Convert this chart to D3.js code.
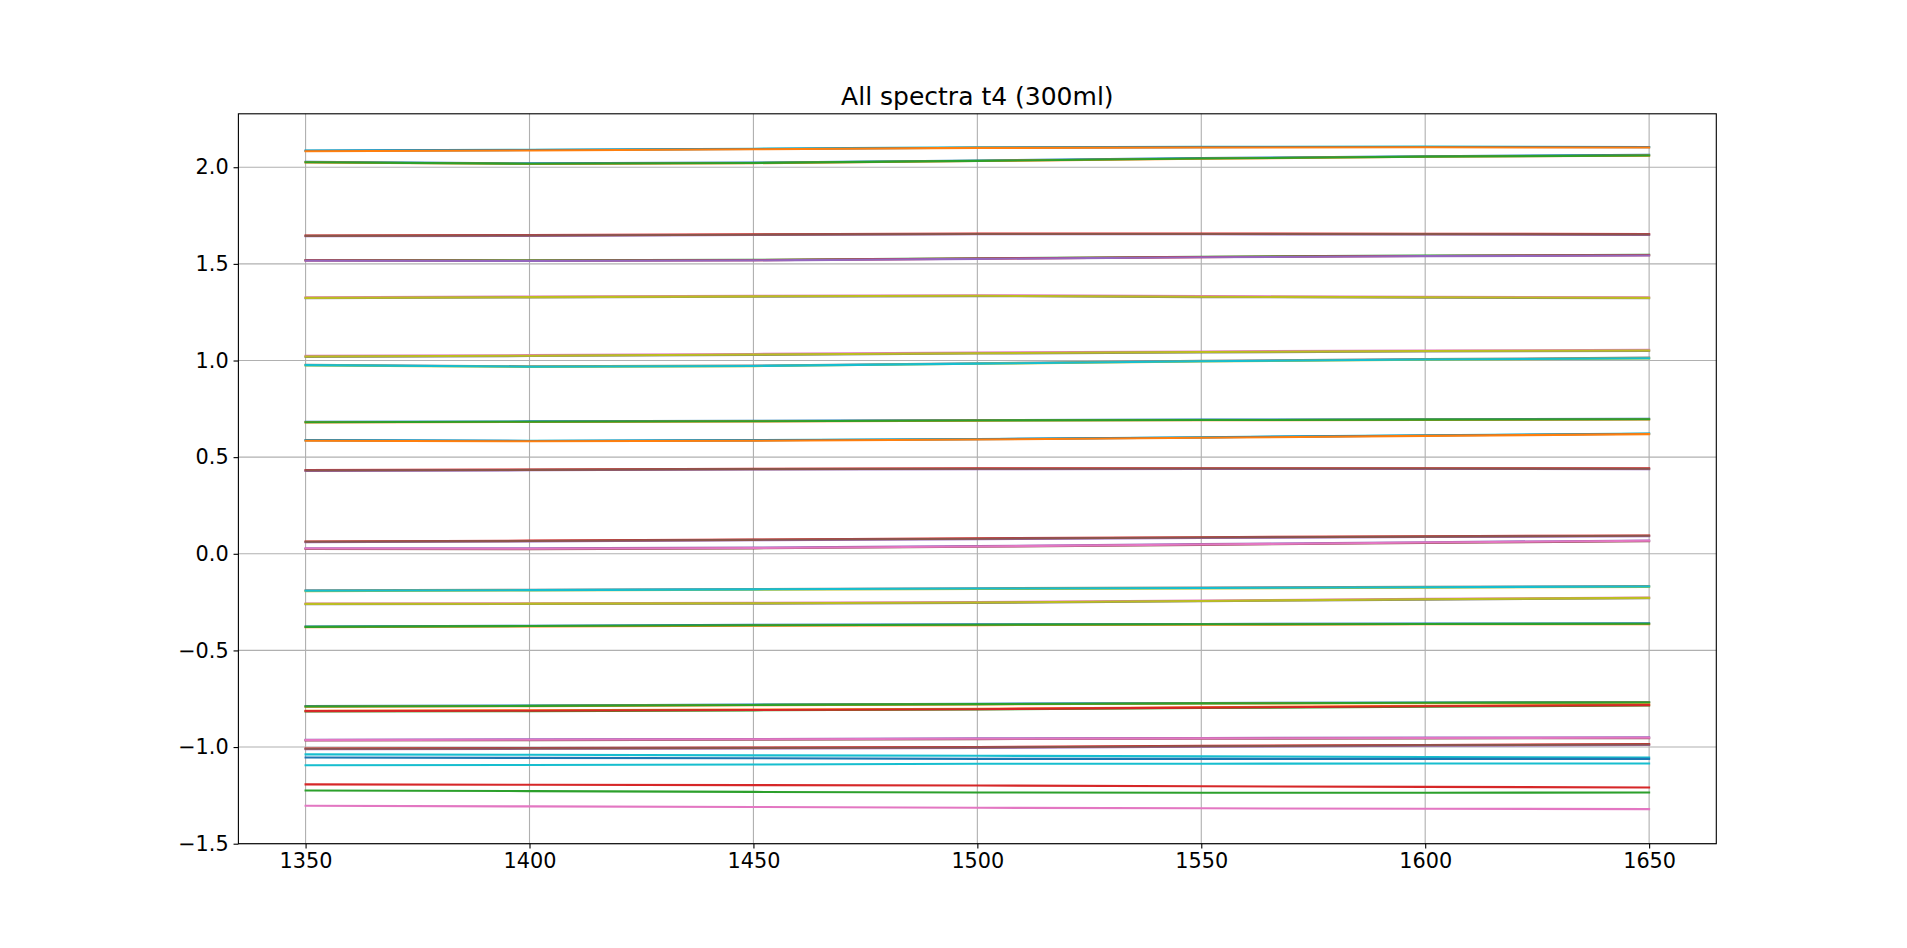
<!DOCTYPE html>
<head>
  <meta charset="utf-8">
  <script src="https://d3js.org/d3.v7.min.js"></script>
  <style>
    body { margin:0; background:#fff; }
    text { font-family: "DejaVu Sans", sans-serif; fill:#000; }
    .grid line { stroke:#b0b0b0; stroke-width:1.11; }
    .axis path, .axis line { stroke:#000; stroke-width:1.11; }
    .axis text { font-size:20.8px; }
    .spectrum { fill:none; stroke-width:2.08; stroke-linejoin:round; stroke-linecap:square; }
  </style>
</head>

<body>
  <script>
  // ---------- data ----------
    var wavenumber = [1350, 1400, 1450, 1500, 1550, 1600, 1650];
    var xTicks = [1350, 1400, 1450, 1500, 1550, 1600, 1650];
    var yTicks = [-1.5, -1.0, -0.5, 0.0, 0.5, 1.0, 1.5, 2.0];

    // each sample: three repeat spectra, in plotting order
    var sample01 = [[2.087, 2.090, 2.096, 2.103, 2.106, 2.107, 2.105],
                    [2.085, 2.089, 2.094, 2.101, 2.104, 2.105, 2.104],
                    [2.083, 2.087, 2.093, 2.100, 2.102, 2.103, 2.102]];
    var sample02 = [[2.028, 2.020, 2.024, 2.035, 2.047, 2.057, 2.064],
                    [2.025, 2.017, 2.021, 2.032, 2.044, 2.054, 2.060],
                    [2.026, 2.018, 2.022, 2.033, 2.045, 2.055, 2.061]];
    var sample03 = [[1.647, 1.649, 1.653, 1.657, 1.657, 1.656, 1.654],
                    [1.643, 1.645, 1.649, 1.653, 1.653, 1.652, 1.650],
                    [1.645, 1.647, 1.651, 1.655, 1.655, 1.654, 1.652]];
    var sample04 = [[1.520, 1.518, 1.521, 1.529, 1.537, 1.543, 1.547],
                    [1.518, 1.516, 1.519, 1.527, 1.535, 1.541, 1.545],
                    [1.517, 1.515, 1.518, 1.526, 1.534, 1.540, 1.543]];
    var sample05 = [[1.327, 1.331, 1.335, 1.338, 1.333, 1.330, 1.327],
                    [1.322, 1.326, 1.330, 1.333, 1.328, 1.325, 1.322],
                    [1.324, 1.328, 1.332, 1.335, 1.330, 1.327, 1.324]];
    var sample06 = [[1.024, 1.028, 1.034, 1.041, 1.047, 1.052, 1.055],
                    [1.019, 1.023, 1.029, 1.036, 1.042, 1.047, 1.050],
                    [1.021, 1.025, 1.031, 1.038, 1.044, 1.049, 1.052]];
    var sample07 = [[0.978, 0.970, 0.974, 0.986, 0.998, 1.007, 1.015],
                    [0.975, 0.967, 0.971, 0.983, 0.995, 1.004, 1.011],
                    [0.976, 0.968, 0.972, 0.984, 0.996, 1.005, 1.012]];
    var sample08 = [[0.683, 0.685, 0.688, 0.692, 0.694, 0.696, 0.698],
                    [0.680, 0.682, 0.685, 0.689, 0.691, 0.693, 0.695],
                    [0.681, 0.683, 0.686, 0.690, 0.692, 0.694, 0.696]];
    var sample09 = [[0.588, 0.585, 0.588, 0.594, 0.603, 0.613, 0.622],
                    [0.587, 0.584, 0.587, 0.593, 0.602, 0.612, 0.621],
                    [0.585, 0.582, 0.585, 0.591, 0.600, 0.610, 0.619]];
    var sample10 = [[0.433, 0.436, 0.440, 0.442, 0.443, 0.443, 0.442],
                    [0.429, 0.432, 0.436, 0.438, 0.439, 0.439, 0.438],
                    [0.431, 0.434, 0.438, 0.440, 0.441, 0.441, 0.440]];
    var sample11 = [[0.064, 0.068, 0.074, 0.080, 0.086, 0.091, 0.095],
                    [0.060, 0.064, 0.070, 0.076, 0.082, 0.087, 0.091],
                    [0.062, 0.066, 0.072, 0.078, 0.084, 0.089, 0.093]];
    var sample12 = [[0.029, 0.028, 0.032, 0.040, 0.050, 0.060, 0.069],
                    [0.025, 0.024, 0.028, 0.036, 0.046, 0.056, 0.065],
                    [0.027, 0.026, 0.030, 0.038, 0.048, 0.058, 0.067]];
    var sample13 = [[-0.189, -0.186, -0.182, -0.178, -0.175, -0.171, -0.167],
                    [-0.193, -0.190, -0.186, -0.182, -0.179, -0.175, -0.171],
                    [-0.191, -0.188, -0.184, -0.180, -0.177, -0.173, -0.169]];
    var sample14 = [[-0.257, -0.256, -0.254, -0.250, -0.242, -0.233, -0.226],
                    [-0.261, -0.260, -0.258, -0.254, -0.246, -0.237, -0.230],
                    [-0.259, -0.258, -0.256, -0.252, -0.244, -0.235, -0.228]];
    var sample15 = [[-0.376, -0.372, -0.368, -0.365, -0.363, -0.361, -0.360],
                    [-0.380, -0.376, -0.372, -0.369, -0.367, -0.365, -0.364],
                    [-0.378, -0.374, -0.370, -0.367, -0.365, -0.363, -0.362]];
    var sample16 = [[-0.788, -0.785, -0.780, -0.776, -0.772, -0.769, -0.767],
                    [-0.791, -0.788, -0.783, -0.779, -0.775, -0.772, -0.770],
                    [-0.790, -0.787, -0.782, -0.778, -0.774, -0.771, -0.769]];
    var sample17 = [[-0.812, -0.810, -0.806, -0.802, -0.794, -0.787, -0.781],
                    [-0.816, -0.814, -0.810, -0.806, -0.798, -0.791, -0.785],
                    [-0.814, -0.812, -0.808, -0.804, -0.796, -0.789, -0.783]];
    var sample18 = [[-0.962, -0.960, -0.958, -0.955, -0.953, -0.951, -0.950],
                    [-0.966, -0.964, -0.962, -0.959, -0.957, -0.955, -0.954],
                    [-0.964, -0.962, -0.960, -0.957, -0.955, -0.953, -0.952]];
    var sample19 = [[-1.007, -1.005, -1.003, -1.000, -0.994, -0.989, -0.985],
                    [-1.011, -1.009, -1.007, -1.004, -0.998, -0.993, -0.989],
                    [-1.009, -1.007, -1.005, -1.002, -0.996, -0.991, -0.987]];
    // single spectra near the bottom
    var sample20 = [[-1.038, -1.040, -1.043, -1.045, -1.048, -1.051, -1.054]];
    var sample21 = [[-1.054, -1.056, -1.058, -1.061, -1.061, -1.061, -1.061]];
    var sample22 = [[-1.094, -1.093, -1.090, -1.086, -1.086, -1.085, -1.085]];
    var sample23 = [[-1.193, -1.195, -1.197, -1.199, -1.203, -1.206, -1.209]];
    var sample24 = [[-1.225, -1.228, -1.232, -1.235, -1.236, -1.236, -1.235]];
    var sample25 = [[-1.304, -1.307, -1.310, -1.314, -1.317, -1.319, -1.321]];

    var samples = [sample01, sample02, sample03, sample04, sample05, sample06, sample07,
                   sample08, sample09, sample10, sample11, sample12, sample13, sample14,
                   sample15, sample16, sample17, sample18, sample19, sample20, sample21,
                   sample22, sample23, sample24, sample25];

  // ---------- colour (index into the tab10 cycle) for each repeat ----------
    var sampleColours = [[9,0,1],[0,1,2],[3,4,5],[2,3,4],[6,7,8],[6,7,8],[7,8,9],
                         [0,1,2],[9,0,1],[3,4,5],[3,4,5],[4,5,6],[7,8,9],[6,7,8],
                         [0,1,2],[0,1,2],[1,2,3],[4,5,6],[3,4,5],[9],[0],[9],[3],[2],[6]];
    var tab10 = d3.schemeCategory10;

  // ---------- layout ----------
    var W = 1907, H = 948;
    var margin = {top: 113.8, right: 190.7, bottom: 104.3, left: 238.4};
    var innerW = W - margin.left - margin.right,
        innerH = H - margin.top - margin.bottom;

    var svg = d3.select("body").append("svg")
      .attr("width", W)
      .attr("height", H);

    var g = svg.append("g")
      .attr("transform", "translate(" + margin.left + "," + margin.top + ")");

    var x = d3.scaleLinear().domain([1335, 1665]).range([0, innerW]);
    var y = d3.scaleLinear().domain([-1.5, 2.2765]).range([innerH, 0]);

  // ---------- grid ----------
    var grid = g.append("g").attr("class", "grid");
    grid.selectAll(".gx").data(xTicks).enter().append("line")
      .attr("x1", d => x(d)).attr("x2", d => x(d))
      .attr("y1", 0).attr("y2", innerH);
    grid.selectAll(".gy").data(yTicks).enter().append("line")
      .attr("x1", 0).attr("x2", innerW)
      .attr("y1", d => y(d)).attr("y2", d => y(d));

  // ---------- spectra ----------
    var line = d3.line()
      .x((d, i) => x(wavenumber[i]))
      .y(d => y(d));

    samples.forEach(function(sample, s) {
      sample.forEach(function(rep, r) {
        g.append("path")
          .attr("class", "spectrum")
          .attr("d", line(rep))
          .attr("stroke", tab10[sampleColours[s][r]]);
      });
    });

  // ---------- axes ----------
    g.append("g")
      .attr("class", "axis")
      .attr("transform", "translate(0," + innerH + ")")
      .call(d3.axisBottom(x).tickValues(xTicks).tickFormat(d3.format("d"))
        .tickSizeInner(4.86).tickSizeOuter(0).tickPadding(4.86));

    g.append("g")
      .attr("class", "axis")
      .call(d3.axisLeft(y).tickValues(yTicks).tickFormat(d3.format(".1f"))
        .tickSizeInner(4.86).tickSizeOuter(0).tickPadding(4.86));

    g.selectAll(".axis .domain").remove();

    // frame
    g.append("rect")
      .attr("width", innerW)
      .attr("height", innerH)
      .attr("fill", "none")
      .attr("stroke", "#000")
      .attr("stroke-width", 1.11);

  // ---------- title ----------
    svg.append("text")
      .attr("x", margin.left + innerW / 2)
      .attr("y", margin.top - 8.6)
      .attr("text-anchor", "middle")
      .style("font-size", "25px")
      .text("All spectra t4 (300ml)");
  </script>
</body>
